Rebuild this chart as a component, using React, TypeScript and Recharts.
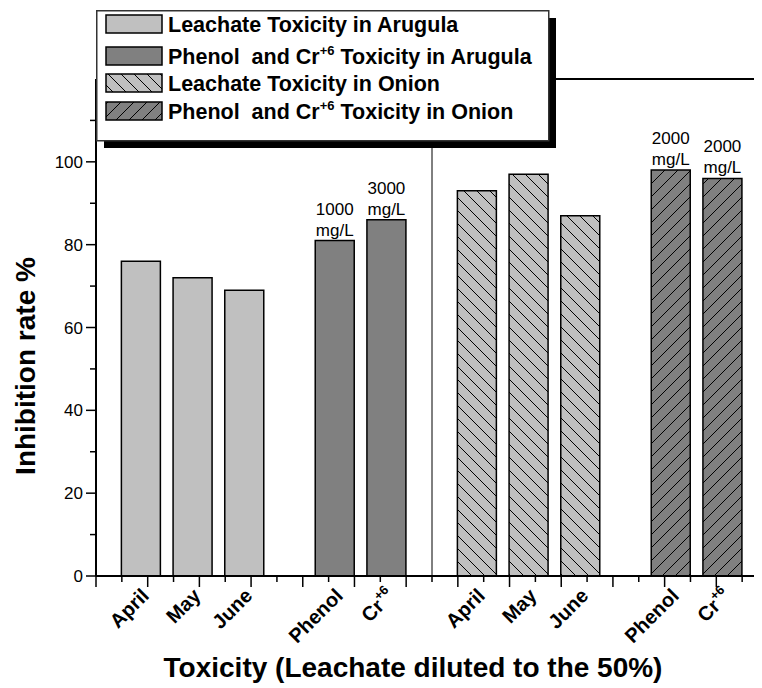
import React from 'react';
import { BarChart, Bar, XAxis, YAxis, ReferenceLine, Legend, LabelList } from 'recharts';

// ---------------- data ----------------
const arugulaMonths = ['April', 'May', 'June'];
const arugulaLeachate = [76, 72, 69];
const arugulaChemicals = ['Phenol', 'Cr+6'];
const arugulaChemical = [81, 86];
const arugulaDoses = ['1000 mg/L', '3000 mg/L'];
const onionMonths = ['April', 'May', 'June'];
const onionLeachate = [93, 97, 87];
const onionChemicals = ['Phenol', 'Cr+6'];
const onionChemical = [98, 96];
const onionDoses = ['2000 mg/L', '2000 mg/L'];
const seriesNames = [
  'Leachate Toxicity in Arugula',
  'Phenol  and Cr+6 Toxicity in Arugula',
  'Leachate Toxicity in Onion',
  'Phenol  and Cr+6 Toxicity in Onion',
];
const yTickLabels = [0, 20, 40, 60, 80, 100];
const xTitle = 'Toxicity (Leachate diluted to the 50%)';
const yTitle = 'Inhibition rate %';

// ---------------- layout (axis units) ----------------
const groupStarts = [1.75, 9.25, 14.75, 22.25];
const slotStep = 2;
const xMax = 26;
const yMax = 120;
const FONT = 'Liberation Sans, Arial, Helvetica, sans-serif';

const groups = [
  { key: 'la', cats: arugulaMonths, vals: arugulaLeachate, doses: null as string[] | null, doseKey: '' },
  { key: 'ca', cats: arugulaChemicals, vals: arugulaChemical, doses: arugulaDoses, doseKey: 'doseA' },
  { key: 'lo', cats: onionMonths, vals: onionLeachate, doses: null as string[] | null, doseKey: '' },
  { key: 'co', cats: onionChemicals, vals: onionChemical, doses: onionDoses, doseKey: 'doseO' },
];

const rows: any[] = [];
groups.forEach((g, gi) =>
  g.cats.forEach((c, i) => {
    const r: any = { pos: groupStarts[gi] + i * slotStep, label: c };
    r[g.key] = g.vals[i];
    if (g.doses) r[g.doseKey] = g.doses[i];
    rows.push(r);
  })
);

const intTicks = Array.from({ length: xMax + 1 }, (_, i) => i);
const xTicks = [...intTicks, ...rows.map((r) => r.pos)].sort((a, b) => a - b);
const yTicks = Array.from({ length: 12 }, (_, i) => i * 10);

const fills = ['#c0c0c0', '#808080', 'url(#hatchDown)', 'url(#hatchUp)'];
const legendFills = ['#c0c0c0', '#808080', 'url(#lgHatchDown)', 'url(#lgHatchUp)'];

const withSup = (s: string, supSize: number, rise: number) => {
  const parts = s.split('+6');
  if (parts.length === 1) return s;
  return [
    <tspan key="a">{parts[0]}</tspan>,
    <tspan key="b" dy={-rise} fontSize={supSize}>+6</tspan>,
    <tspan key="c" dy={rise}>{parts[1]}</tspan>,
  ];
};

const Patterns = ({ prefix }: { prefix: string }) => (
  <defs>
    <pattern id={prefix + 'HatchDown'} patternUnits="userSpaceOnUse" width="13" height="13">
      <rect width="13" height="13" fill="#c0c0c0" />
      <path d="M0,0 L13,13 M-3,10 L3,16 M10,-3 L16,3" stroke="#000" strokeWidth="1" />
    </pattern>
    <pattern id={prefix + 'HatchUp'} patternUnits="userSpaceOnUse" width="13" height="13">
      <rect width="13" height="13" fill="#808080" />
      <path d="M0,13 L13,0 M-3,3 L3,-3 M10,16 L16,10" stroke="#000" strokeWidth="1" />
    </pattern>
  </defs>
);

const XTick = (props: any) => {
  const { x, y, payload } = props;
  const v = payload.value;
  if (Number.isInteger(v)) {
    const len = v % 2 === 0 ? 11 : 6;
    return <line x1={x} x2={x} y1={y} y2={y + len} stroke="#000" strokeWidth={1.5} />;
  }
  const row = rows.find((r) => Math.abs(r.pos - v) < 1e-6);
  if (!row) return null;
  return (
    <text
      transform={`translate(${x + 9},${y + 21}) rotate(-45)`}
      textAnchor="end"
      fontFamily={FONT}
      fontWeight="bold"
      fontSize={20}
      fill="#000"
    >
      {withSup(row.label, 13, 9)}
    </text>
  );
};

const YTick = (props: any) => {
  const { x, y, payload } = props;
  const v = payload.value;
  const len = v % 20 === 0 ? 10 : 6;
  return (
    <g>
      <line x1={x - len} x2={x} y1={y} y2={y} stroke="#000" strokeWidth={1.5} />
      {yTickLabels.includes(v) && (
        <text x={x - 13} y={y + 6} textAnchor="end" fontFamily={FONT} fontSize={17} fill="#000">
          {v}
        </text>
      )}
    </g>
  );
};

const DoseLabel = (props: any) => {
  const { x, y, width, value } = props;
  if (!value || typeof value !== 'string') return null;
  const [a, b] = value.split(' ');
  const cx = x + width / 2;
  return (
    <text textAnchor="middle" fontFamily={FONT} fontSize={17} fill="#000">
      <tspan x={cx} y={y - 26}>{a}</tspan>
      <tspan x={cx} y={y - 5}>{b}</tspan>
    </text>
  );
};

const LegendBox = () => {
  const rowY = [5, 37, 64, 92];
  return (
    <svg width={470} height={150} style={{ display: 'block', overflow: 'visible' }}>
      <Patterns prefix="lg" />
      <rect x={8} y={8} width={452} height={130} fill="#000" />
      <rect x={0.75} y={0.75} width={452} height={130} fill="#fff" stroke="#333" strokeWidth={1.5} />
      {seriesNames.map((n, i) => (
        <g key={n}>
          <rect x={10} y={rowY[i]} width={56} height={18} fill={legendFills[i]} stroke="#000" strokeWidth={1.5} />
          <text
            x={72}
            y={rowY[i] + 17}
            fontFamily={FONT}
            fontWeight="bold"
            fontSize={21.5}
            fill="#000"
            style={{ whiteSpace: 'pre' }}
          >
            {withSup(n, 13, 9)}
          </text>
        </g>
      ))}
    </svg>
  );
};

export default function App() {
  const keys = ['la', 'ca', 'lo', 'co'];
  return (
    <div style={{ width: 754, height: 680, overflow: 'hidden', background: '#fff' }}>
      <BarChart
        width={772}
        height={680}
        data={rows}
        margin={{ top: 71, right: 12, bottom: 0, left: 0 }}
        style={{ overflow: 'visible' }}
      >
        <defs>
          <pattern id="hatchDown" patternUnits="userSpaceOnUse" width="13" height="13">
            <rect width="13" height="13" fill="#c0c0c0" />
            <path d="M0,0 L13,13 M-3,10 L3,16 M10,-3 L16,3" stroke="#000" strokeWidth="1" />
          </pattern>
          <pattern id="hatchUp" patternUnits="userSpaceOnUse" width="13" height="13">
            <rect width="13" height="13" fill="#808080" />
            <path d="M0,13 L13,0 M-3,3 L3,-3 M10,16 L16,10" stroke="#000" strokeWidth="1" />
          </pattern>
        </defs>
        <XAxis
          type="number"
          dataKey="pos"
          domain={[0, xMax]}
          ticks={xTicks}
          interval={0}
          height={112}
          tickSize={0}
          tickMargin={0}
          tickLine={false}
          tick={<XTick />}
          axisLine={{ stroke: '#000', strokeWidth: 2 }}
          label={(p: any) => {
            const vb = p.viewBox;
            return (
              <text
                x={vb.x + 317}
                y={vb.y + 101}
                textAnchor="middle"
                fontFamily={FONT}
                fontWeight="bold"
                fontSize={28}
                fill="#000"
              >
                {xTitle}
              </text>
            );
          }}
        />
        <YAxis
          type="number"
          domain={[0, yMax]}
          ticks={yTicks}
          interval={0}
          width={88}
          tickSize={0}
          tickMargin={0}
          tickLine={false}
          tick={<YTick />}
          axisLine={{ stroke: '#000', strokeWidth: 2 }}
          label={(p: any) => {
            const vb = p.viewBox;
            return (
              <text
                transform={`translate(${vb.x + 27},${vb.y + 287}) rotate(-90)`}
                textAnchor="middle"
                fontFamily={FONT}
                fontWeight="bold"
                fontSize={28}
                fill="#000"
              >
                {yTitle}
              </text>
            );
          }}
        />
        <ReferenceLine y={yMax} stroke="#000" strokeWidth={2} ifOverflow="visible" />
        <ReferenceLine x={13} stroke="#000" strokeWidth={1} />
        {keys.map((k, i) => (
          <Bar
            key={k}
            dataKey={k}
            name={seriesNames[i]}
            stackId="s"
            fill={fills[i]}
            stroke="#000"
            strokeWidth={1.5}
            barSize={39}
            isAnimationActive={false}
          >
            {groups[i].doses && (
              <LabelList dataKey={groups[i].doseKey} content={<DoseLabel />} />
            )}
          </Bar>
        ))}
        <Legend
          layout="vertical"
          align="center"
          verticalAlign="middle"
          content={() => <LegendBox />}
          wrapperStyle={{ position: 'absolute', left: 88, top: 2, width: 470, height: 150 }}
        />
      </BarChart>
    </div>
  );
}
